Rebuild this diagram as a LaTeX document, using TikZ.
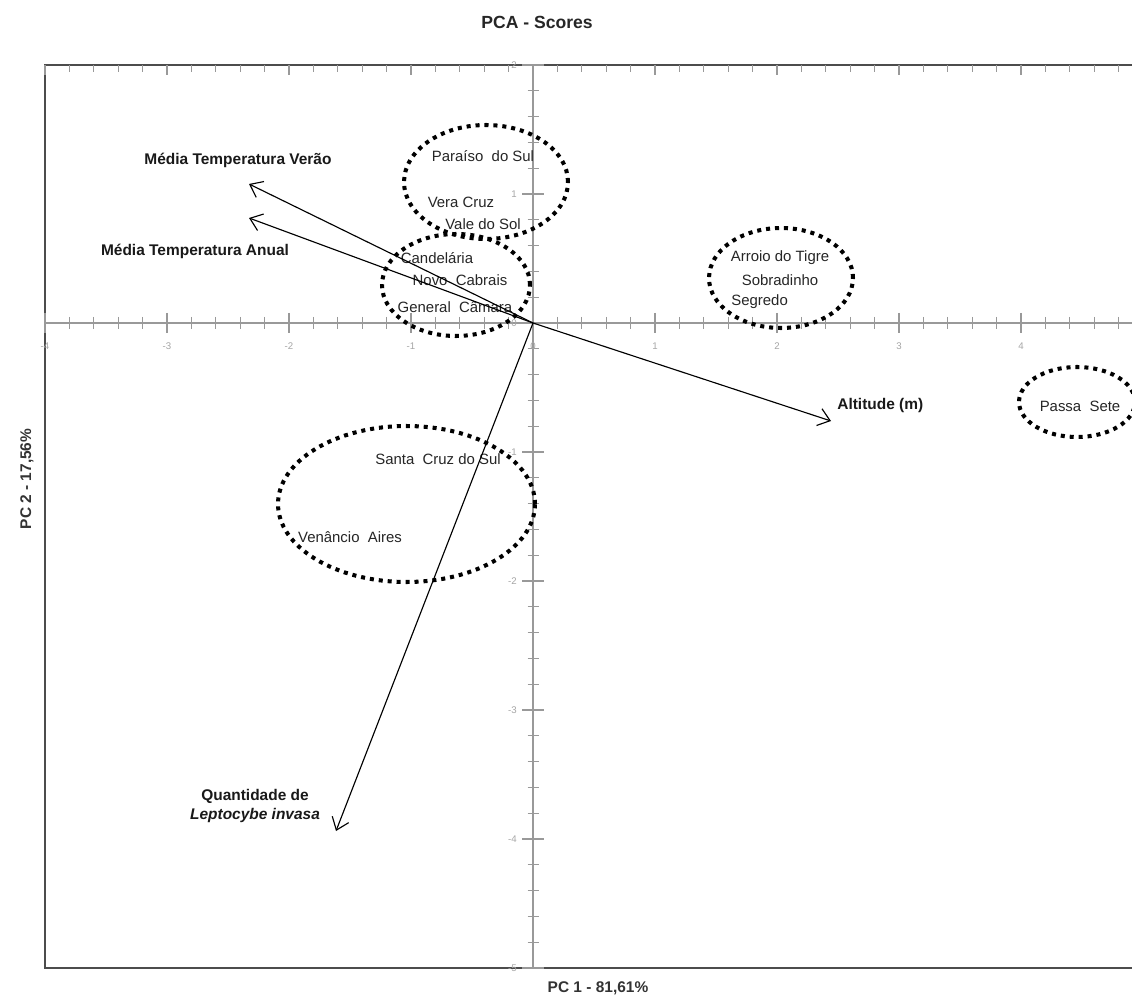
\documentclass[tikz,border=0pt]{standalone}
\usepackage{fontspec}
\setmainfont{Liberation Sans}
\usetikzlibrary{arrows.meta}
\begin{document}
\begin{tikzpicture}[x=0.02cm,y=-0.02cm,
 site/.style={font=\fontsize{8.5}{10}\selectfont, text=black!85, inner sep=0pt},
 var/.style={font=\bfseries\fontsize{8.8}{10.8}\selectfont, text=black!90, inner sep=0pt},
 ticklab/.style={font=\fontsize{5.5}{6}\selectfont, text=black!35, inner sep=0pt},
 axline/.style={draw=black!40, line width=0.85pt},
 frameline/.style={draw=black!70, line width=1.1pt},
 tk/.style={draw=black!40, line width=0.7pt},
 vec/.style={draw=black, line width=0.65pt, -{Straight Barb[length=6.5pt,width=10pt]}},
 ring/.style={draw=black, line width=2.3pt, dash pattern=on 2.3pt off 2.8pt}]
\useasboundingbox (0,0) rectangle (1132,1003);
\fill[white] (0,0) rectangle (1132,1003);
\clip (0,0) rectangle (1132,1003);

% title and axis titles
\node[font=\bfseries\fontsize{10}{12}\selectfont, text=black!85] (title) at (537,22) {PCA - Scores};
\node[var, text=black!80] (pc1) at (598,988) {PC 1 - 81,61\%};
\node[var, text=black!80, rotate=90] (pc2) at (27,479) {PC 2 - 17,56\%};

% frame
\draw[frameline] (1132,65) -- (45,65) -- (45,968) -- (1132,968);

% axes
\draw[axline] (45,323) -- (1132,323);
\draw[axline] (533,65) -- (533,968);

% x ticks (axis and top frame)
\foreach \k in {0,...,44} {
  \draw[tk] ({45+\k*24.4},317) -- ({45+\k*24.4},329);
  \draw[tk] ({45+\k*24.4},65) -- ({45+\k*24.4},72);
}
\foreach \k in {0,5,...,40} {
  \draw[tk] ({45+\k*24.4},313) -- ({45+\k*24.4},333);
  \draw[tk] ({45+\k*24.4},65) -- ({45+\k*24.4},75);
}
% y ticks
\foreach \k in {0,...,35} {
  \draw[tk] (527.5,{65+\k*25.8}) -- (538.5,{65+\k*25.8});
}
\foreach \k in {0,5,...,35} {
  \draw[tk] (522,{65+\k*25.8}) -- (544,{65+\k*25.8});
}
% tick labels
\foreach \i in {-4,...,4} {
  \node[ticklab] (xl\i) at ({533+122*\i},346) {\i};
}
\foreach \j in {-5,...,2} {
  \node[ticklab, anchor=east] (yl\j) at (517,{323-129*\j}) {\j};
}

% dotted groups
\draw[ring] (486,182) ellipse [x radius=1.64cm, y radius=1.14cm];
\draw[ring] (456,285) ellipse [x radius=1.48cm, y radius=1.02cm];
\draw[ring] (781,278) ellipse [x radius=1.44cm, y radius=1.0cm];
\draw[ring] (406.5,504) ellipse [x radius=2.57cm, y radius=1.56cm];
\draw[ring] (1077,402) ellipse [x radius=1.16cm, y radius=0.7cm];

% site labels
\node[site] (paraiso) at (483,156) {Paraíso~ do Sul};
\node[site] (vera) at (461,202) {Vera Cruz};
\node[site] (vale) at (483,224) {Vale do Sol};
\node[site] (cand) at (437,258) {Candelária};
\node[site] (novo) at (460,280) {Novo~ Cabrais};
\node[site] (general) at (455,307) {General~ Câmara};
\node[site] (arroio) at (780,258) {Arroio do Tigre};
\node[site] (sobr) at (780,280) {Sobradinho};
\node[site, anchor=west] (segredo) at (731,302) {Segredo};
\node[site] (santa) at (438,459) {Santa~ Cruz do Sul};
\node[site] (venancio) at (350,537) {Venâncio~ Aires};
\node[site] (passa) at (1080,406) {Passa~ Sete};

% loading vectors
\coordinate (O) at (533,323);
\coordinate (tV) at (249,184);
\coordinate (tA) at (249,218);
\coordinate (tAlt) at (831,421);
\coordinate (tL) at (336,831);
\draw[vec] (O) -- (tV);
\draw[vec] (O) -- (tA);
\draw[vec] (O) -- (tAlt);
\draw[vec] (O) -- (tL);

\node[var] (lV) at (238,160) {Média Temperatura Verão};
\node[var] (lA) at (195,251) {Média Temperatura Anual};
\node[var, anchor=west] (lAlt) at (837,406) {Altitude (m)};
\node[var, align=center] (lL) at (255,806) {Quantidade de\\\textit{Leptocybe invasa}};
\end{tikzpicture}
\end{document}
